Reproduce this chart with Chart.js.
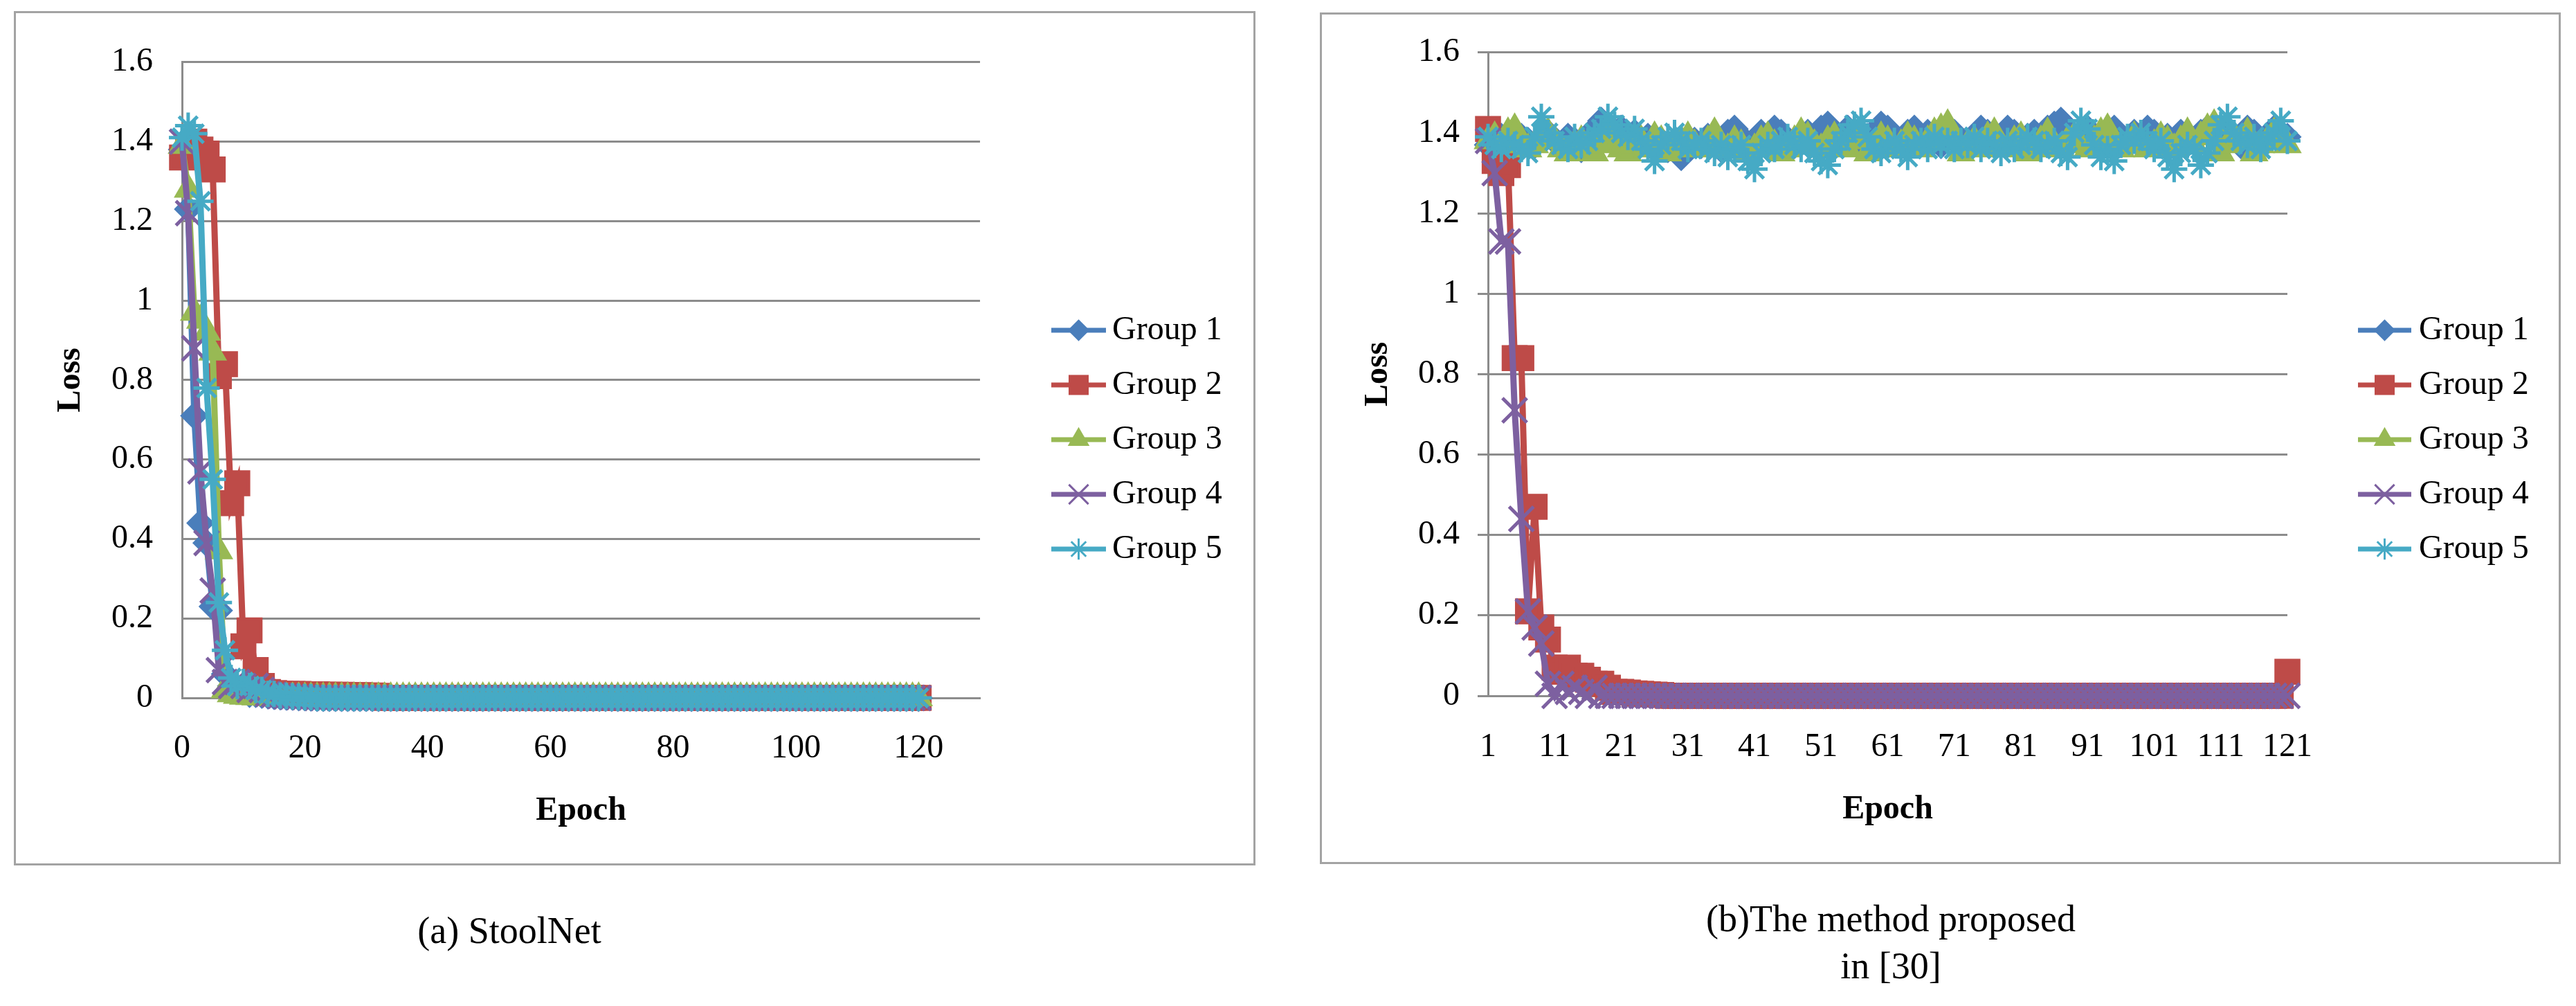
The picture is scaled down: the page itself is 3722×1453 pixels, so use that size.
<!DOCTYPE html>
<html>
<head>
<meta charset="utf-8">
<script src="https://cdn.jsdelivr.net/npm/chart.js@4.4.1/dist/chart.umd.min.js"></script>
<style>
  html, body { margin: 0; padding: 0; background: #fff; }
  body { width: 3722px; height: 1453px; position: relative; overflow: hidden; font-family: "Liberation Serif", serif; }
  .panel { position: absolute; border: 3px solid #a3a3a3; box-sizing: border-box; background: #fff; }
  .panel .box { position: absolute; left: 0; top: 0; right: 0; bottom: 0; }
  .cap { position: absolute; width: 900px; text-align: center; font-size: 54px; line-height: 68px; color: #000; }
</style>
</head>
<body>
<div class="panel" style="left:20px;top:16px;width:1794px;height:1234px"><div class="box"><canvas id="chartA"></canvas></div></div>
<div class="panel" style="left:1907px;top:18px;width:1793px;height:1230px"><div class="box"><canvas id="chartB"></canvas></div></div>
<div class="cap" style="left:286px;top:1310px">(a) StoolNet</div>
<div class="cap" style="left:2282px;top:1293px">(b)The method proposed<br>in [30]</div>

<script>
// Loss curves, (a) StoolNet vs (b) method of [30]

const groupNames = ['Group 1', 'Group 2', 'Group 3', 'Group 4', 'Group 5'];
const yTickLabels = ['0', '0.2', '0.4', '0.6', '0.8', '1', '1.2', '1.4', '1.6'];

// panel (a): x = epoch 0..120 on a linear axis
const xTicksA = [0, 20, 40, 60, 80, 100, 120];
const epochsA = [
  0, 1, 2, 3, 4, 5, 6, 7, 8, 9, 10,
  11, 12, 13, 14, 15, 16, 17, 18, 19, 20, 21,
  22, 23, 24, 25, 26, 27, 28, 29, 30, 31, 32,
  33, 34, 35, 36, 37, 38, 39, 40, 41, 42, 43,
  44, 45, 46, 47, 48, 49, 50, 51, 52, 53, 54,
  55, 56, 57, 58, 59, 60, 61, 62, 63, 64, 65,
  66, 67, 68, 69, 70, 71, 72, 73, 74, 75, 76,
  77, 78, 79, 80, 81, 82, 83, 84, 85, 86, 87,
  88, 89, 90, 91, 92, 93, 94, 95, 96, 97, 98,
  99, 100, 101, 102, 103, 104, 105, 106, 107, 108, 109,
  110, 111, 112, 113, 114, 115, 116, 117, 118, 119, 120
];
const lossA1 = [
  1.38, 1.23, 0.71, 0.44, 0.39, 0.23, 0.22, 0.06, 0.03, 0.02, 0.02,
  0.01, 0.01, 0.008, 0.006, 0.005, 0.004, 0.003, 0.003, 0.002, 0.002, 0.001,
  0, 0, 0, 0, 0, 0, 0, 0, 0, 0, 0,
  0, 0, 0, 0, 0, 0, 0, 0, 0, 0, 0,
  0, 0, 0, 0, 0, 0, 0, 0, 0, 0, 0,
  0, 0, 0, 0, 0, 0, 0, 0, 0, 0, 0,
  0, 0, 0, 0, 0, 0, 0, 0, 0, 0, 0,
  0, 0, 0, 0, 0, 0, 0, 0, 0, 0, 0,
  0, 0, 0, 0, 0, 0, 0, 0, 0, 0, 0,
  0, 0, 0, 0, 0, 0, 0, 0, 0, 0, 0,
  0, 0, 0, 0, 0, 0, 0, 0, 0, 0, 0
];
const lossA2 = [
  1.36, 1.39, 1.40, 1.38, 1.37, 1.33, 0.81, 0.84, 0.49, 0.54, 0.13,
  0.17, 0.07, 0.03, 0.015, 0.012, 0.011, 0.01, 0.01, 0.01, 0.009, 0.009,
  0.009, 0.008, 0.008, 0.008, 0.008, 0.007, 0.007, 0.007, 0.006, 0.006, 0.005,
  0, 0, 0, 0, 0, 0, 0, 0, 0, 0, 0,
  0, 0, 0, 0, 0, 0, 0, 0, 0, 0, 0,
  0, 0, 0, 0, 0, 0, 0, 0, 0, 0, 0,
  0, 0, 0, 0, 0, 0, 0, 0, 0, 0, 0,
  0, 0, 0, 0, 0, 0, 0, 0, 0, 0, 0,
  0, 0, 0, 0, 0, 0, 0, 0, 0, 0, 0,
  0, 0, 0, 0, 0, 0, 0, 0, 0, 0, 0,
  0, 0, 0, 0, 0, 0, 0, 0, 0, 0, 0
];
const lossA3 = [
  1.39, 1.28, 0.97, 0.95, 0.92, 0.87, 0.37, 0.02, 0.01, 0.006, 0.004,
  0.003, 0.002, 0.002, 0.001, 0.001, 0, 0, 0, 0, 0, 0,
  0, 0, 0, 0, 0, 0, 0, 0, 0, 0, 0,
  0, 0, 0, 0, 0, 0, 0, 0, 0, 0, 0,
  0, 0, 0, 0, 0, 0, 0, 0, 0, 0, 0,
  0, 0, 0, 0, 0, 0, 0, 0, 0, 0, 0,
  0, 0, 0, 0, 0, 0, 0, 0, 0, 0, 0,
  0, 0, 0, 0, 0, 0, 0, 0, 0, 0, 0,
  0, 0, 0, 0, 0, 0, 0, 0, 0, 0, 0,
  0, 0, 0, 0, 0, 0, 0, 0, 0, 0, 0,
  0, 0, 0, 0, 0, 0, 0, 0, 0, 0, 0
];
const lossA4 = [
  1.40, 1.22, 0.88, 0.57, 0.39, 0.27, 0.07, 0.04, 0.03, 0.04, 0.03,
  0.02, 0.03, 0.02, 0.01, 0.008, 0.005, 0.004, 0.003, 0.002, 0.002, 0.001,
  0, 0, 0, 0, 0, 0, 0, 0, 0, 0, 0,
  0, 0, 0, 0, 0, 0, 0, 0, 0, 0, 0,
  0, 0, 0, 0, 0, 0, 0, 0, 0, 0, 0,
  0, 0, 0, 0, 0, 0, 0, 0, 0, 0, 0,
  0, 0, 0, 0, 0, 0, 0, 0, 0, 0, 0,
  0, 0, 0, 0, 0, 0, 0, 0, 0, 0, 0,
  0, 0, 0, 0, 0, 0, 0, 0, 0, 0, 0,
  0, 0, 0, 0, 0, 0, 0, 0, 0, 0, 0,
  0, 0, 0, 0, 0, 0, 0, 0, 0, 0, 0
];
const lossA5 = [
  1.41, 1.44, 1.42, 1.25, 0.78, 0.55, 0.24, 0.12, 0.05, 0.03, 0.04,
  0.03, 0.02, 0.02, 0.01, 0.01, 0.006, 0.005, 0.004, 0.003, 0.002, 0.002,
  0, 0, 0, 0, 0, 0, 0, 0, 0, 0, 0,
  0, 0, 0, 0, 0, 0, 0, 0, 0, 0, 0,
  0, 0, 0, 0, 0, 0, 0, 0, 0, 0, 0,
  0, 0, 0, 0, 0, 0, 0, 0, 0, 0, 0,
  0, 0, 0, 0, 0, 0, 0, 0, 0, 0, 0,
  0, 0, 0, 0, 0, 0, 0, 0, 0, 0, 0,
  0, 0, 0, 0, 0, 0, 0, 0, 0, 0, 0,
  0, 0, 0, 0, 0, 0, 0, 0, 0, 0, 0,
  0, 0, 0, 0, 0, 0, 0, 0, 0, 0, 0
];

// panel (b): epoch categories 1..121, labelled every 10
const xTickLabelsB = [1, 11, 21, 31, 41, 51, 61, 71, 81, 91, 101, 111, 121];
const epochsB = [
  1, 2, 3, 4, 5, 6, 7, 8, 9, 10, 11,
  12, 13, 14, 15, 16, 17, 18, 19, 20, 21, 22,
  23, 24, 25, 26, 27, 28, 29, 30, 31, 32, 33,
  34, 35, 36, 37, 38, 39, 40, 41, 42, 43, 44,
  45, 46, 47, 48, 49, 50, 51, 52, 53, 54, 55,
  56, 57, 58, 59, 60, 61, 62, 63, 64, 65, 66,
  67, 68, 69, 70, 71, 72, 73, 74, 75, 76, 77,
  78, 79, 80, 81, 82, 83, 84, 85, 86, 87, 88,
  89, 90, 91, 92, 93, 94, 95, 96, 97, 98, 99,
  100, 101, 102, 103, 104, 105, 106, 107, 108, 109, 110,
  111, 112, 113, 114, 115, 116, 117, 118, 119, 120, 121
];
const lossB1 = [
  1.37, 1.38, 1.39, 1.38, 1.40, 1.39, 1.38, 1.37, 1.39, 1.40,
  1.38, 1.37, 1.39, 1.38, 1.36, 1.39, 1.41, 1.43, 1.42, 1.40,
  1.41, 1.39, 1.40, 1.38, 1.39, 1.37, 1.38, 1.36, 1.37, 1.34,
  1.36, 1.38, 1.37, 1.39, 1.38, 1.36, 1.40, 1.41, 1.39, 1.37,
  1.38, 1.40, 1.39, 1.41, 1.40, 1.38, 1.37, 1.39, 1.40, 1.38,
  1.41, 1.42, 1.40, 1.39, 1.41, 1.40, 1.38, 1.39, 1.40, 1.42,
  1.41, 1.39, 1.38, 1.40, 1.41, 1.39, 1.40, 1.38, 1.37, 1.39,
  1.40, 1.38, 1.37, 1.39, 1.41, 1.40, 1.38, 1.39, 1.41, 1.40,
  1.38, 1.39, 1.40, 1.38, 1.41, 1.42, 1.43, 1.41, 1.39, 1.40,
  1.41, 1.39, 1.38, 1.40, 1.41, 1.39, 1.38, 1.40, 1.39, 1.41,
  1.40, 1.38, 1.39, 1.37, 1.40, 1.39, 1.38, 1.40, 1.41, 1.39,
  1.38, 1.40, 1.39, 1.37, 1.41, 1.40, 1.38, 1.39, 1.41, 1.40,
  1.39
];
const lossB2 = [
  1.41, 1.33, 1.30, 1.32, 0.84, 0.84, 0.21, 0.47, 0.17, 0.14, 0.07,
  0.06, 0.07, 0.05, 0.05, 0.04, 0.03, 0.03, 0.02, 0.01, 0.01, 0.008,
  0.006, 0.005, 0.004, 0.003, 0.002, 0, 0, 0, 0, 0, 0,
  0, 0, 0, 0, 0, 0, 0, 0, 0, 0, 0,
  0, 0, 0, 0, 0, 0, 0, 0, 0, 0, 0,
  0, 0, 0, 0, 0, 0, 0, 0, 0, 0, 0,
  0, 0, 0, 0, 0, 0, 0, 0, 0, 0, 0,
  0, 0, 0, 0, 0, 0, 0, 0, 0, 0, 0,
  0, 0, 0, 0, 0, 0, 0, 0, 0, 0, 0,
  0, 0, 0, 0, 0, 0, 0, 0, 0, 0, 0,
  0, 0, 0, 0, 0, 0, 0, 0, 0, 0, 0.06
];
const lossB3 = [
  1.38, 1.39, 1.37, 1.40, 1.41, 1.38, 1.36, 1.37, 1.39, 1.40,
  1.38, 1.36, 1.35, 1.37, 1.38, 1.36, 1.35, 1.37, 1.39, 1.38,
  1.36, 1.35, 1.37, 1.38, 1.36, 1.39, 1.38, 1.35, 1.36, 1.38,
  1.39, 1.37, 1.36, 1.38, 1.40, 1.37, 1.36, 1.38, 1.37, 1.35,
  1.36, 1.38, 1.39, 1.37, 1.35, 1.36, 1.38, 1.40, 1.39, 1.37,
  1.36, 1.38, 1.39, 1.37, 1.36, 1.40, 1.38, 1.35, 1.37, 1.39,
  1.38, 1.36, 1.37, 1.39, 1.38, 1.36, 1.38, 1.40, 1.41, 1.42,
  1.39, 1.35, 1.37, 1.38, 1.36, 1.39, 1.40, 1.37, 1.36, 1.38,
  1.39, 1.35, 1.36, 1.38, 1.40, 1.37, 1.36, 1.38, 1.39, 1.37,
  1.36, 1.38, 1.40, 1.41, 1.38, 1.36, 1.37, 1.39, 1.38, 1.36,
  1.37, 1.39, 1.38, 1.36, 1.38, 1.40, 1.37, 1.39, 1.41, 1.42,
  1.35, 1.37, 1.39, 1.38, 1.40, 1.35, 1.37, 1.38, 1.40, 1.38,
  1.37
];
const lossB4 = [
  1.38, 1.30, 1.13, 1.13, 0.71, 0.44, 0.21, 0.17, 0.13, 0.03, 0,
  0.03, 0.01, 0.02, 0.01, 0, 0.02, 0, 0, 0, 0, 0,
  0, 0, 0, 0, 0, 0, 0, 0, 0, 0, 0,
  0, 0, 0, 0, 0, 0, 0, 0, 0, 0, 0,
  0, 0, 0, 0, 0, 0, 0, 0, 0, 0, 0,
  0, 0, 0, 0, 0, 0, 0, 0, 0, 0, 0,
  0, 0, 0, 0, 0, 0, 0, 0, 0, 0, 0,
  0, 0, 0, 0, 0, 0, 0, 0, 0, 0, 0,
  0, 0, 0, 0, 0, 0, 0, 0, 0, 0, 0,
  0, 0, 0, 0, 0, 0, 0, 0, 0, 0, 0,
  0, 0, 0, 0, 0, 0, 0, 0, 0, 0, 0
];
const lossB5 = [
  1.39, 1.37, 1.36, 1.38, 1.37, 1.36, 1.35, 1.39, 1.44, 1.40,
  1.38, 1.37, 1.36, 1.39, 1.37, 1.38, 1.40, 1.41, 1.44, 1.42,
  1.40, 1.39, 1.41, 1.38, 1.36, 1.33, 1.37, 1.39, 1.40, 1.38,
  1.36, 1.37, 1.38, 1.36, 1.35, 1.37, 1.34, 1.36, 1.37, 1.33,
  1.31, 1.35, 1.37, 1.36, 1.38, 1.39, 1.37, 1.36, 1.38, 1.35,
  1.33, 1.32, 1.36, 1.38, 1.40, 1.42, 1.43, 1.39, 1.36, 1.35,
  1.37, 1.38, 1.36, 1.34, 1.37, 1.38, 1.36, 1.39, 1.37, 1.38,
  1.36, 1.38, 1.37, 1.39, 1.36, 1.38, 1.37, 1.35, 1.38, 1.36,
  1.37, 1.39, 1.38, 1.36, 1.37, 1.38, 1.35, 1.34, 1.40, 1.43,
  1.41, 1.37, 1.34, 1.36, 1.33, 1.37, 1.39, 1.38, 1.40, 1.38,
  1.36, 1.38, 1.34, 1.31, 1.35, 1.37, 1.36, 1.32, 1.35, 1.38,
  1.42, 1.44, 1.40, 1.38, 1.37, 1.39, 1.36, 1.38, 1.40, 1.43,
  1.38
];

const colors = ['#4a7ebb', '#be4b48', '#98b954', '#7d60a0', '#46aac5'];
const markerStyles = ['rectRot', 'rect', 'triangle', 'crossRot', 'star'];
const markerRadii = [17, 23, 19, 25, 19];
const gridColor = '#8c8c8c';

Chart.defaults.font.family = '"Liberation Serif", "Times New Roman", serif';
Chart.defaults.font.size = 48;
Chart.defaults.color = '#000';

function makeSets(seriesList, xs) {
  return seriesList.map(function (vals, i) {
    return {
      label: groupNames[i],
      data: xs ? vals.map(function (v, k) { return { x: xs[k], y: v }; }) : vals,
      borderColor: colors[i],
      backgroundColor: colors[i],
      pointBackgroundColor: colors[i],
      pointBorderColor: colors[i],
      pointStyle: markerStyles[i],
      pointRadius: markerRadii[i],
      pointBorderWidth: 5,
      borderWidth: 9,
      tension: 0,
      clip: false,
      order: 5 - i   // group 5 ends up on top, as in the source
    };
  });
}

// line + marker legend, Excel style, drawn at the right of the plot
const sideLegend = {
  id: 'sideLegend',
  afterDatasetsDraw(chart, args, opts) {
    const ctx = chart.ctx;
    ctx.save();
    chart.data.datasets.forEach(function (ds, i) {
      const y = opts.top + i * opts.gap;
      ctx.strokeStyle = ds.borderColor;
      ctx.lineWidth = 7;
      ctx.beginPath();
      ctx.moveTo(opts.x0, y);
      ctx.lineTo(opts.x1, y);
      ctx.stroke();
      ctx.fillStyle = ds.pointBackgroundColor;
      ctx.strokeStyle = ds.pointBorderColor;
      ctx.lineWidth = 3;
      Chart.helpers.drawPoint(ctx, {
        pointStyle: ds.pointStyle, radius: ds.pointRadius * 0.8,
        borderWidth: 3, rotation: 0
      }, (opts.x0 + opts.x1) / 2, y);
      ctx.fillStyle = '#000';
      ctx.font = '48px "Liberation Serif", serif';
      ctx.textAlign = 'left';
      ctx.textBaseline = 'middle';
      ctx.fillText(ds.label, opts.tx, y);
    });
    ctx.restore();
  }
};

function yAxis(tickLen, tickPad, titlePad) {
  return {
    min: 0, max: 1.6,
    afterFit: function (s) { s.width = 240; },
    ticks: { stepSize: 0.2, padding: tickPad, callback: function (v, i) { return yTickLabels[i]; } },
    grid: { color: gridColor, lineWidth: 3, drawTicks: tickLen > 0, tickLength: tickLen },
    border: { display: true, color: gridColor, width: 3 },
    title: { display: true, text: 'Loss', font: { size: 48, weight: 'bold' }, padding: { top: titlePad, bottom: 0 } }
  };
}

const chartA = new Chart(document.getElementById('chartA'), {
  type: 'line',
  data: { datasets: makeSets([lossA1, lossA2, lossA3, lossA4, lossA5], epochsA) },
  options: {
    responsive: true, maintainAspectRatio: false, animation: false, devicePixelRatio: 1, events: [],
    layout: { padding: { left: 0, top: 45, right: 395, bottom: 0 } },
    scales: {
      x: {
        type: 'linear', min: 0, max: 130,
        afterBuildTicks: function (s) { s.ticks = xTicksA.map(function (v) { return { value: v }; }); },
        afterFit: function (s) { s.height = 239; },
        ticks: { padding: 45, maxRotation: 0 },
        grid: { display: false, drawTicks: false },
        border: { display: true, color: gridColor, width: 3 },
        title: { display: true, text: 'Epoch', font: { size: 48, weight: 'bold' }, padding: { top: 0, bottom: 47 } }
      },
      y: yAxis(0, 42, 51)
    },
    plugins: {
      legend: { display: false },
      tooltip: { enabled: false },
      sideLegend: { x0: 1496, x1: 1575, tx: 1584, top: 458, gap: 79 }
    }
  },
  plugins: [sideLegend]
});

const chartB = new Chart(document.getElementById('chartB'), {
  type: 'line',
  data: { labels: epochsB, datasets: makeSets([lossB1, lossB2, lossB3, lossB4, lossB5]) },
  options: {
    responsive: true, maintainAspectRatio: false, animation: false, devicePixelRatio: 1, events: [],
    layout: { padding: { left: 0, top: 44, right: 392, bottom: 0 } },
    scales: {
      x: {
        type: 'category', offset: false,
        afterFit: function (s) { s.height = 240; },
        ticks: {
          autoSkip: false, maxRotation: 0, minRotation: 0, padding: 46,
          callback: function (v, i) { return xTickLabelsB.indexOf(epochsB[i]) >= 0 ? String(epochsB[i]) : null; }
        },
        grid: { display: false, drawTicks: false },
        border: { display: true, color: gridColor, width: 3 },
        title: { display: true, text: 'Epoch', font: { size: 48, weight: 'bold' }, padding: { top: 0, bottom: 47 } }
      },
      y: yAxis(15, 26, 53)
    },
    plugins: {
      legend: { display: false },
      tooltip: { enabled: false },
      sideLegend: { x0: 1497, x1: 1574, tx: 1585, top: 456, gap: 79 }
    }
  },
  plugins: [sideLegend]
});
</script>
</body>
</html>
